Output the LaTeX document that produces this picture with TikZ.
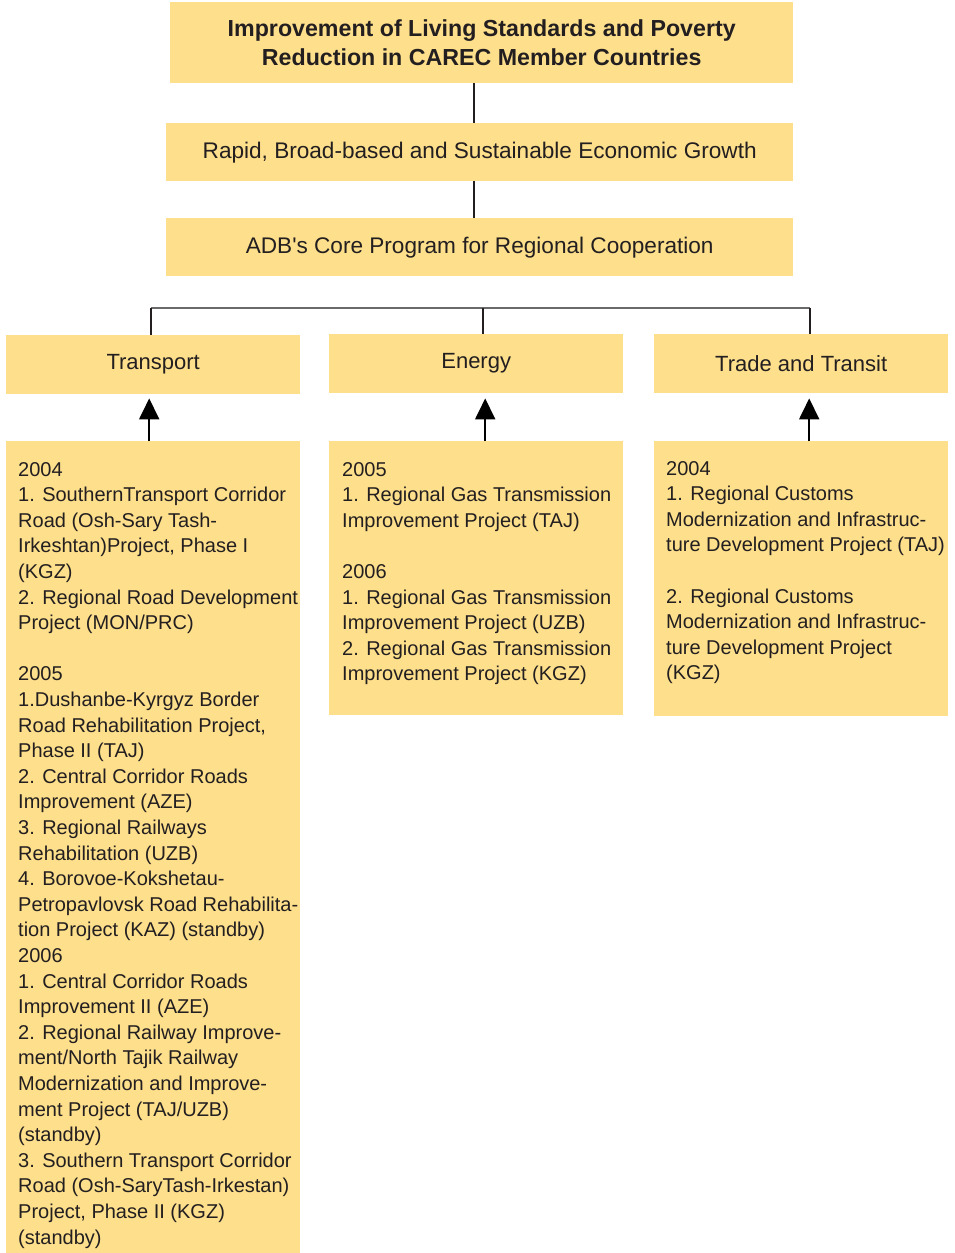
\documentclass[tikz,border=0pt]{standalone}
\usepackage{fontspec}
\setmainfont{Liberation Sans}
\newfontfamily\straightfont{Liberation Sans}
\usetikzlibrary{arrows.meta}
\definecolor{boxyellow}{HTML}{FDDF8C}
\definecolor{bargray}{HTML}{6A6A6A}
\definecolor{inkgray}{HTML}{231F20}
\tikzset{
  box/.style={fill=boxyellow, inner sep=0pt, anchor=north west, text=inkgray},
  listtext/.style={inner sep=0pt, anchor=north west, align=left, text=inkgray,
    font=\fontsize{20}{25.6}\selectfont},
  link/.style={draw=inkgray, line width=1.2pt},
  uparrow/.style={draw=black, line width=2pt, -{Triangle[width=20pt,length=21pt]}}
}
\begin{document}
\begin{tikzpicture}[x=1pt,y=-1pt]
\useasboundingbox (0,0) rectangle (955,1253);
% top of the chain
\node[box, minimum width=623pt, minimum height=81pt, align=center,
      font=\bfseries\fontsize{23.2}{29}\selectfont] (goal) at (170,2)
      {Improvement of Living Standards and Poverty\\Reduction in CAREC Member Countries};
\node[box, minimum width=627pt, minimum height=58pt, font=\fontsize{22.6}{26}\selectfont]
      (growth) at (166,123) {Rapid, Broad-based and Sustainable Economic Growth};
\node[box, minimum width=627pt, minimum height=58pt, font=\fontsize{22.6}{26}\selectfont]
      (core) at (166,218) {ADB{\straightfont '}s Core Program for Regional Cooperation};
\coordinate (spine) at (474,0);
\draw[link] (goal.south -| spine) -- (growth.north -| spine);
\draw[link] (growth.south -| spine) -- (core.north -| spine);

% the three areas
\node[box, minimum width=294pt, minimum height=59pt, font=\fontsize{22}{26}\selectfont]
      (transport) at (6,335) {Transport};
\node[box, minimum width=294pt, minimum height=59pt, font=\fontsize{22}{26}\selectfont]
      (energy) at (329,334) {Energy};
\node[box, minimum width=294pt, minimum height=59pt, font=\fontsize{22}{26}\selectfont]
      (trade) at (654,334) {Trade and Transit};
\coordinate (barleft) at (151,308);
\coordinate (barmid) at (483,308);
\coordinate (barright) at (810,308);
\draw[draw=bargray, line width=1.5pt] (barleft) -- (barright);
\draw[link] (barleft) -- (barleft |- transport.north);
\draw[link] (barmid) -- (barmid |- energy.north);
\draw[link] (barright) -- (barright |- trade.north);

% project lists
\node[box, minimum width=294pt, minimum height=812pt] (transportlist) at (6,441) {};
\node[box, minimum width=294pt, minimum height=274pt] (energylist) at (329,441) {};
\node[box, minimum width=294pt, minimum height=275pt] (tradelist) at (654,441) {};
\node[listtext] (transporttext) at (18,462) {2004\\
1. SouthernTransport Corridor\\
Road (Osh-Sary Tash-\\
Irkeshtan)Project, Phase I\\
(KGZ)\\
2. Regional Road Development\\
Project (MON/PRC)\\[25.6pt]
2005\\
1.Dushanbe-Kyrgyz Border\\
Road Rehabilitation Project,\\
Phase II (TAJ)\\
2. Central Corridor Roads\\
Improvement (AZE)\\
3. Regional Railways\\
Rehabilitation (UZB)\\
4. Borovoe-Kokshetau-\\
Petropavlovsk Road Rehabilita-\\
tion Project (KAZ) (standby)\\
2006\\
1. Central Corridor Roads\\
Improvement II (AZE)\\
2. Regional Railway Improve-\\
ment/North Tajik Railway\\
Modernization and Improve-\\
ment Project (TAJ/UZB)\\
(standby)\\
3. Southern Transport Corridor\\
Road (Osh-SaryTash-Irkestan)\\
Project, Phase II (KGZ)\\
(standby)};
\node[listtext] (energytext) at (342,462) {2005\\
1. Regional Gas Transmission\\
Improvement Project (TAJ)\\[25.6pt]
2006\\
1. Regional Gas Transmission\\
Improvement Project (UZB)\\
2. Regional Gas Transmission\\
Improvement Project (KGZ)};
\node[listtext] (tradetext) at (666,461) {2004\\
1. Regional Customs\\
Modernization and Infrastruc-\\
ture Development Project (TAJ)\\[25.6pt]
2. Regional Customs\\
Modernization and Infrastruc-\\
ture Development Project\\
(KGZ)};
\draw[uparrow] ([xshift=-4pt]transportlist.north) -- ([xshift=-4pt,yshift=-4pt]transport.south);
\draw[uparrow] ([xshift=9pt]energylist.north) -- ([xshift=9pt,yshift=-5pt]energy.south);
\draw[uparrow] ([xshift=8pt]tradelist.north) -- ([xshift=8pt,yshift=-5pt]trade.south);
\end{tikzpicture}
\end{document}
